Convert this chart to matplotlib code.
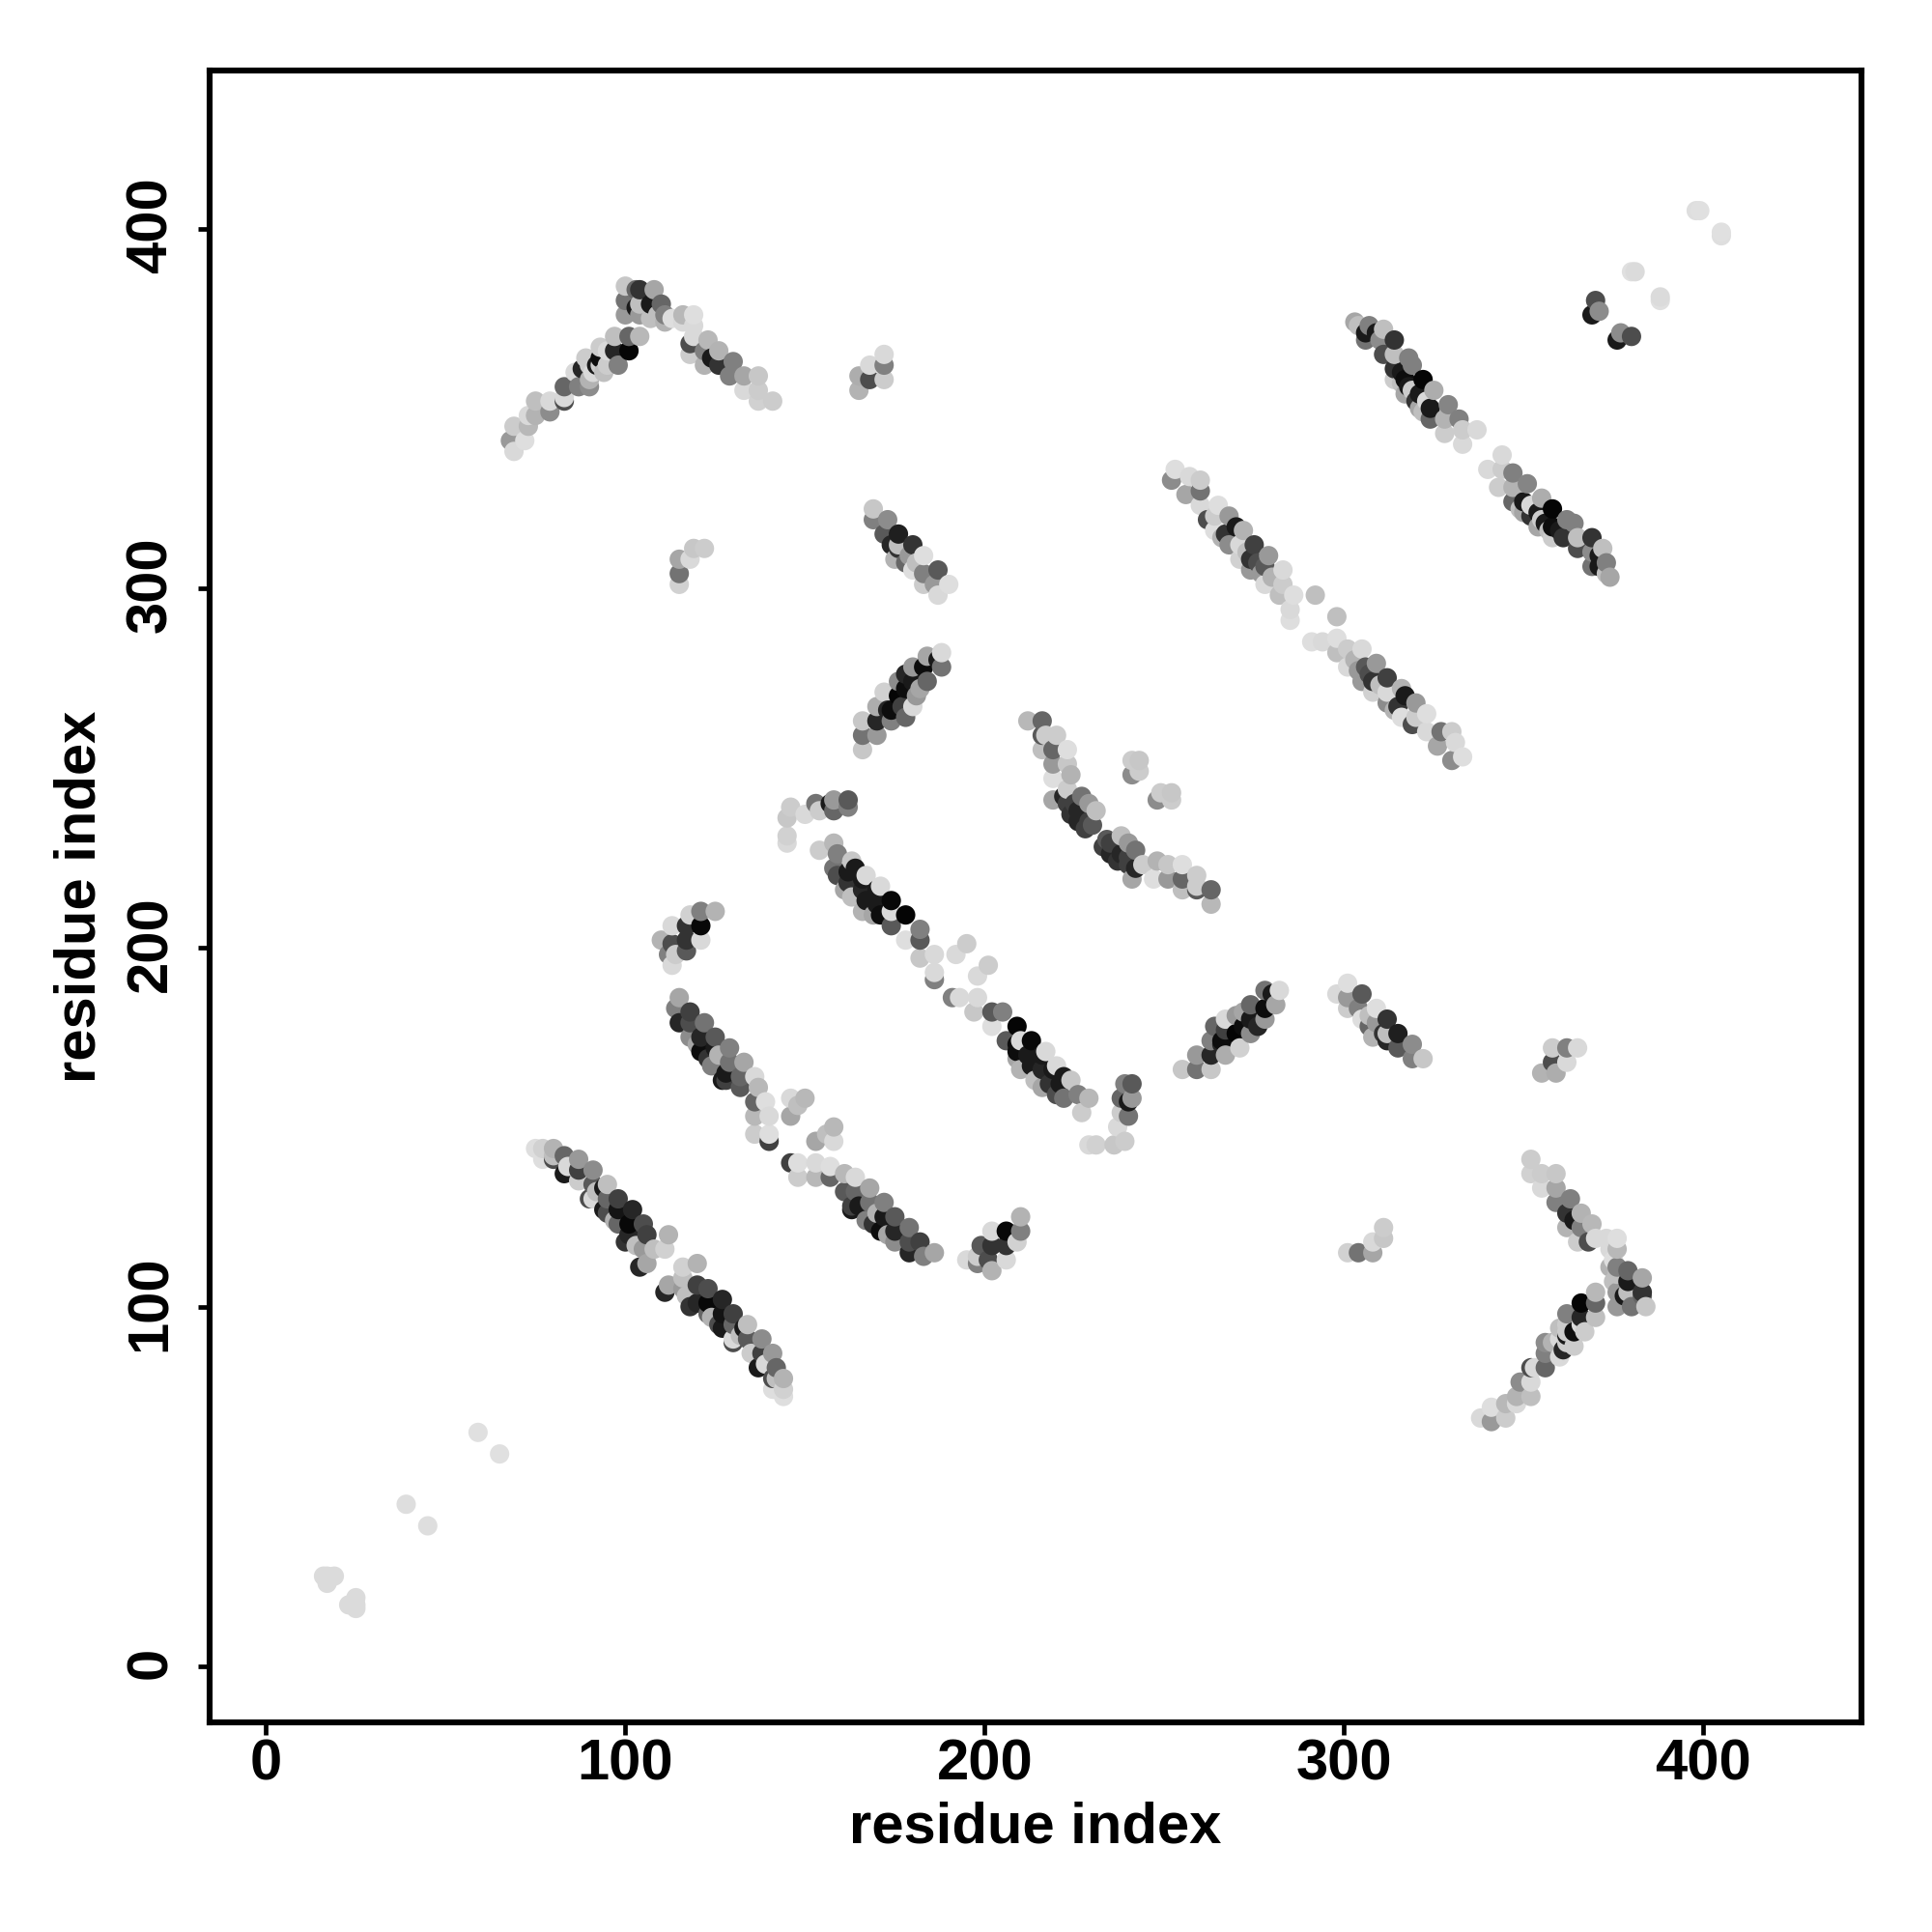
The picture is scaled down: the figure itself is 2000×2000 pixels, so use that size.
import matplotlib
matplotlib.use("Agg")
import matplotlib.pyplot as plt
from matplotlib.transforms import ScaledTranslation
import numpy as np

plt.rcParams['font.family'] = ['Liberation Sans', 'DejaVu Sans']

# Contacts (residue i, residue j, grey level). The map is symmetric: each is drawn also as (j, i).
near_diagonal = [(16,25,.86),(17,25,.86),(19,25,.86),(17,23,.86),(39,45,.87),(59,65,.88),
                 (381,388,.86),(380,388,.88),(398,405,.87),(399,405,.88)]
strand_a = [(75,144,.87),(77,144,.82),(77,141,.87),(80,141,.3),(80,144,.7),(80,142,.75),(83,137,.1),(83,142,.4),
            (84,139,.85),(87,135,.8),(87,138,.25),(87,141,.6),(90,130,.3),(91,130,.85),(91,134,.35),(91,138,.55),
            (92,132,.75),(94,127,.1),(94,133,.1),(95,126,.3),(95,130,.4),(95,134,.75),(97,124,.7),(98,123,.4),(98,127,.08),(98,130,.25),
            (100,118,.2),(101,120,.15),(101,123,.03),(102,127,.15),(103,117,.75),(104,111,.15),(105,116,.6),(105,123,.3),(106,112,.65),
            (106,120,.25),(108,116,.75),(111,116,.82),(112,120,.7)]
strand_b = [(114,183,.5),(115,179,.15),(115,186,.65),(118,175,.55),(118,179,.3),(118,182,.25),(120,173,.65),(121,171,.05),
            (121,175,.15),(122,179,.45),(123,169,.2),(124,167,.5),(125,172,.1),(125,175,.35),(126,170,.7),(127,163,.1),(128,163,.25),(128,165,.1),
            (129,168,.45),(129,172,.5),(132,161,.35),(132,164,.4),(133,168,.65),(136,148,.8),(136,153,.72),
            (136,157,.4),(136,164,.85),(137,161,.72),(139,157,.87),(140,146,.25),(140,148,.87),(140,153,.85),
            (146,153,.65),(146,158,.85),(148,156,.75),(150,158,.72)]
strand_c = [(154,227,.8),(158,222,.45),(158,229,.72),(159,220,.3),(159,226,.5),(161,216,.65),(162,218,.2),(162,221,.1),(163,214,.75),(163,224,.78),
            (164,222,.1),(166,210,.7),(166,216,.15),(166,219,.1),(167,213,.1),(167,220,.85),(169,209,.65),(170,212,.1),(170,216,.1),(171,209,.05),(171,217,.85),
            (173,209,.05),(174,206,.35),(174,210,.85),(174,213,.03),(178,202,.87),(178,209,.02),(182,197,.78),(182,202,.35),
            (182,205,.5),(186,191,.5),(186,193,.85),(186,198,.85),(192,198,.85),(195,201,.8)]
strand_d = [(212,263,.72),(216,255,.75),(216,259,.35),(216,263,.4),(217,259,.8),(219,241,.65),(219,247,.87),(219,251,.6),
            (219,255,.4),(220,259,.8),(222,242,.15),(223,240,.25),(223,244,.8),(223,251,.78),(223,255,.87),(224,237,.2),(224,248,.7),
            (225,240,.25),(226,235,.15),(226,238,.15),(227,242,.45),(228,233,.25),(229,235,.25),(229,240,.6),(230,234,.35),(231,238,.75),
            (241,248,.55),(241,252,.8),(243,249,.8),(243,252,.78)]
strand_e = [(252,330,.55),(253,333,.87),(256,326,.65),(257,331,.85),(260,323,.85),(260,327,.45),(260,330,.8),(262,319,.3),
            (264,316,.87),(264,320,.8),(265,323,.87),(266,314,.7),(267,315,.2),(268,312,.55),(268,320,.6),(270,317,.1),(271,308,.82),
            (271,312,.85),(272,316,.7),(273,310,.75),(274,305,.6),(274,308,.2),(275,312,.25),(276,307,.3),(277,304,.6),(278,301,.85),(278,306,.35),
            (279,309,.6),(280,303,.7),(282,298,.75),(283,301,.8),(283,305,.85),(285,291,.87),(285,294,.85),(286,298,.87),
            (292,298,.75)]
strand_f = [(303,374,.65),(304,373,.75),(306,369,.45),(306,371,.1),(307,373,.5),(309,371,.1),(310,369,.55),(311,365,.3),(311,372,.75),
            (314,358,.8),(314,361,.2),(314,365,.75),(314,369,.2),(316,357,.75),(316,360,.1),(317,354,.65),(317,358,.05),(318,356,.1),(318,364,.5),
            (319,355,.8),(319,362,.5),(320,352,.2),(321,350,.65),(321,354,.1),(322,349,.75),(322,358,.02),(323,352,.85),(324,347,.4),(324,350,.1),(325,355,.68),
            (328,343,.8),(328,347,.7),(329,351,.52),(332,347,.5),(333,340,.85),(333,344,.8),(337,344,.85)]
corner_w = [(369,376,.1),(370,380,.3),(371,377,.55)]
sheet_p_rising = [(68,341,.6),(69,338,.85),(69,345,.8),(72,341,.87),(73,345,.72),(73,348,.85),(75,348,.7),(75,352,.75),
                  (79,349,.55),(79,352,.85),(83,352,.3),(83,353,.85),(83,356,.4),(86,360,.85),(87,356,.5),(88,361,.15),
                  (89,364,.8),(90,356,.55),(90,358,.7),(90,362,.8),(91,360,.85),(92,362,.1),(93,362,.8),(93,364,.05),(93,367,.8),(94,360,.75),
                  (95,362,.8),(95,366,.85),(97,366,.15),(97,370,.75),(98,362,.5),(101,366,.02),(101,370,.4),(104,370,.72)]
sheet_p_top = [(100,376,.6),(100,380,.45),(100,384,.78),(103,378,.1),(103,383,.4),(104,376,.6),(104,379,.75),(104,383,.2),
               (107,375,.75),(107,379,.1),(108,383,.65),(109,376,.75),(110,379,.4),(111,374,.7),(111,376,.5),(113,375,.87),
               (116,374,.85),(116,376,.72),(118,365,.8),(118,368,.3),(119,370,.85),(119,373,.85),(119,376,.87),
               (122,362,.7),(122,366,.5),(123,369,.72),(124,364,.1),(126,362,.2),(126,366,.7),(129,359,.5),(130,363,.5),
               (133,355,.85),(133,359,.65),(137,352,.82),(137,355,.8),(137,359,.78),(141,352,.8)]
patch_q = [(165,355,.7),(165,359,.68),(168,358,.3),(168,362,.85),(172,358,.8),(172,362,.5),(172,365,.85)]
patch_r = [(115,301,.82),(115,304,.45),(115,308,.65),(118,308,.85),(119,311,.78),(122,311,.8)]
patch_s = [(169,319,.5),(169,322,.78),(172,315,.35),(173,319,.55),(174,312,.15),(175,308,.7),(176,311,.2),(176,312,.75),(176,315,.12),
           (178,307,.4),(179,309,.6),(180,305,.87),(180,312,.2),(181,307,.75),(183,301,.8),(183,304,.5),(183,309,.87),(186,301,.6),
           (187,298,.85),(187,305,.35),(190,301,.87)]
patch_t = [(166,255,.78),(166,259,.45),(166,263,.78),(170,259,.6),(170,263,.15),(170,267,.68),(172,271,.82),
           (173,266,.15),(174,263,.5),(174,266,.05),(176,270,.02),(176,274,.55),(177,267,.25),(178,264,.4),(178,272,.05),(178,276,.15),(180,267,.85),(180,274,.1),
           (180,278,.6),(181,270,.6),(182,272,.65),(183,278,.05),(184,274,.4),(184,281,.65),(188,278,.45),(187,280,.1),(188,282,.85)]
patch_u = [(145,229,.85),(145,231,.82),(145,236,.78),(146,239,.8),(150,237,.85),(153,240,.45),(154,238,.8),
           (157,240,.1),(158,238,.4),(158,241,.6),(162,239,.5),(162,241,.35)]
patch_v = [(110,202,.7),(112,198,.5),(113,195,.85),(113,201,.3),(113,206,.85),(114,198,.8),(117,199,.35),(117,202,.2),
           (117,206,.2),(118,209,.82),(121,202,.85),(121,206,.03),(121,210,.5),(125,210,.7)]

clusters = [near_diagonal, strand_a, strand_b, strand_c, strand_d, strand_e, strand_f, corner_w,
            sheet_p_rising, sheet_p_top, patch_q, patch_r, patch_s, patch_t, patch_u, patch_v]

x_ticks = [0, 100, 200, 300, 400]
x_title = "residue index"
y_title = "residue index"

rows = set()
for c in clusters:
    for i, j, g in c:
        rows.add((i, j, g))
        rows.add((j, i, g))
rows = sorted(rows, key=lambda r: (r[0], r[1]))
xs = np.array([r[0] for r in rows], float)
ys = np.array([r[1] for r in rows], float)
gs = [str(r[2]) for r in rows]

fig = plt.figure(figsize=(10, 10), dpi=200)
ax = fig.add_axes([217/2000, 1 - 1783/2000, (1927-217)/2000, (1783-73)/2000])
ax.scatter(xs, ys, s=52, c=gs, linewidths=0, zorder=3)
ax.set_xlim(-15.7, 444)
ax.set_ylim(-15.7, 444)
ax.set_xticks(x_ticks)
ax.set_yticks(x_ticks)
ax.tick_params(length=4.5, width=1.7, labelsize=21.5)
ax.tick_params(axis='x', pad=1.5)
ax.tick_params(axis='y', pad=7.3)
for lab in ax.get_xticklabels():
    lab.set_fontweight('bold')
up = ScaledTranslation(0, 1.2/72, fig.dpi_scale_trans)
for lab in ax.get_yticklabels():
    lab.set_fontweight('bold')
    lab.set_rotation(90)
    lab.set_va('center')
    lab.set_transform(lab.get_transform() + up)
for s in ax.spines.values():
    s.set_linewidth(2.2)
ax.set_xlabel(x_title, fontsize=21.5, fontweight='bold', labelpad=3.5)
ax.set_ylabel(y_title, fontsize=21.5, fontweight='bold', labelpad=6.8)
fig.savefig("out.png", dpi=200)
